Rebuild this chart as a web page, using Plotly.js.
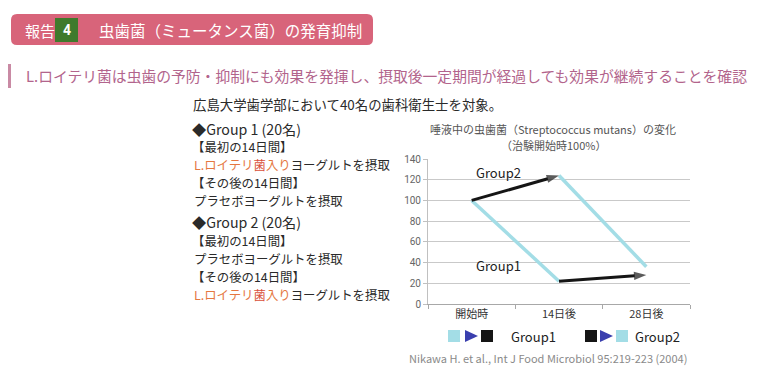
<!DOCTYPE html>
<html>
<head>
<meta charset="utf-8">
<script src="https://cdn.plot.ly/plotly-3.0.1.min.js"></script>
<style>
html,body{margin:0;padding:0;background:#fff;}
#chart{width:770px;height:383px;}
</style>
</head>
<body>
<div id="chart"></div>
<script>
// ---- data ----
const categories = ['開始時', '14日後', '28日後'];
const group1 = [100, 22, 28];
const group2 = [100, 124, 36];
const yTicks = [0, 20, 40, 60, 80, 100, 120, 140];

const JP = '"Noto Sans CJK JP", "Noto Sans", sans-serif';
const CYAN = '#a3dde6';
const BLACK = '#151515';

// plot area in pixels
const L = 428, R = 690, T = 159, B = 304;
const xp = x => (x - L) / (R - L);
const yp = y => (B - y) / (B - T);

function seg(x, y, color, arrow) {
  const t = {
    x: x, y: y, type: 'scatter', mode: arrow ? 'lines+markers' : 'lines',
    line: {color: color, width: arrow ? 3 : 3.5},
    hoverinfo: 'skip', showlegend: false, cliponaxis: false
  };
  if (arrow) {
    t.marker = {symbol: 'arrow', angleref: 'previous', size: [0, 13], color: color,
                line: {width: 0}};
  }
  return t;
}

const traces = [
  // Group1: first period (cyan), second period (black arrow)
  seg(categories.slice(0, 2), group1.slice(0, 2), CYAN, false),
  seg(categories.slice(1, 3), group1.slice(1, 3), BLACK, true),
  // Group2: first period (black arrow), second period (cyan)
  seg(categories.slice(1, 3), group2.slice(1, 3), CYAN, false),
  seg(categories.slice(0, 2), group2.slice(0, 2), BLACK, true)
];

const ann = [];
const shapes = [];
function txt(x, y, text, size, color, anchor, extra) {
  ann.push(Object.assign({
    xref: 'paper', yref: 'paper', x: xp(x), y: yp(y), text: text,
    showarrow: false, xanchor: anchor || 'left', yanchor: 'middle',
    font: {family: JP, size: size, color: color}
  }, extra || {}));
}

// header bar
shapes.push({type: 'path', xref: 'paper', yref: 'paper', layer: 'below',
  path: (function () {
    const x0 = 11, x1 = 373, y0 = 14, y1 = 45, r = 6;
    const X = v => xp(v), Y = v => yp(v);
    return 'M' + X(x0 + r) + ',' + Y(y0) + ' L' + X(x1 - r) + ',' + Y(y0) +
      ' Q' + X(x1) + ',' + Y(y0) + ' ' + X(x1) + ',' + Y(y0 + r) +
      ' L' + X(x1) + ',' + Y(y1 - r) +
      ' Q' + X(x1) + ',' + Y(y1) + ' ' + X(x1 - r) + ',' + Y(y1) +
      ' L' + X(x0 + r) + ',' + Y(y1) +
      ' Q' + X(x0) + ',' + Y(y1) + ' ' + X(x0) + ',' + Y(y1 - r) +
      ' L' + X(x0) + ',' + Y(y0 + r) +
      ' Q' + X(x0) + ',' + Y(y0) + ' ' + X(x0 + r) + ',' + Y(y0) + ' Z';
  })(),
  fillcolor: '#d8647a', line: {width: 0}});
shapes.push({type: 'rect', xref: 'paper', yref: 'paper', layer: 'below',
  x0: xp(55), x1: xp(78), y0: yp(18), y1: yp(42),
  fillcolor: '#3f7a2c', line: {width: 0}});
txt(23, 30, '報告', 15, '#ffffff');
txt(66.5, 30.5, '<b>4</b>', 14, '#ffffff', 'center', {font: {family: 'Roboto, sans-serif', size: 14, color: '#fff'}});
txt(97, 30, '虫歯菌（ミュータンス菌）の発育抑制', 15.5, '#ffffff');

// subtitle
shapes.push({type: 'rect', xref: 'paper', yref: 'paper', layer: 'below',
  x0: xp(8), x1: xp(11), y0: yp(64), y1: yp(88),
  fillcolor: '#c98aa4', line: {width: 0}});
txt(24, 75.5, 'L.ロイテリ菌は虫歯の予防・抑制にも効果を発揮し、摂取後一定期間が経過しても効果が継続することを確認', 14.8, '#b2648c');

// left description block
const ORG = '#e5773f';
const lr = '<span style="color:' + ORG + '">L.ロイテリ<span style="color:#d9503a">菌</span>入り</span>ヨーグルトを摂取';
const FS = 12.4;
txt(191, 104, '広島大学歯学部において40名の歯科衛生士を対象。', 13.4, '#2a2a2a');
txt(190, 129, '◆Group 1 (20名)', 14.2, '#2a2a2a');
txt(190, 147, '【最初の14日間】', FS, '#2a2a2a');
txt(192, 165, lr, FS, '#2a2a2a');
txt(190, 183, '【その後の14日間】', FS, '#2a2a2a');
txt(192, 201, 'プラセボヨーグルトを摂取', FS, '#2a2a2a');
txt(190, 222, '◆Group 2 (20名)', 14.2, '#2a2a2a');
txt(190, 241, '【最初の14日間】', FS, '#2a2a2a');
txt(192, 259, 'プラセボヨーグルトを摂取', FS, '#2a2a2a');
txt(190, 277, '【その後の14日間】', FS, '#2a2a2a');
txt(192, 295, lr, FS, '#2a2a2a');

// chart title
txt(553, 129, '唾液中の虫歯菌（Streptococcus mutans）の変化', 11, '#555555', 'center');
txt(553, 145, '（治験開始時100%）', 11, '#555555', 'center');

// group labels inside the plot
txt(498, 172, 'Group2', 13, '#222222', 'center');
txt(498, 265, 'Group1', 13, '#222222', 'center');

// custom legend
function sq(x0, color) {
  shapes.push({type: 'rect', xref: 'paper', yref: 'paper',
    x0: xp(x0), x1: xp(x0 + 12), y0: yp(330), y1: yp(342),
    fillcolor: color, line: {width: 0}});
}
function tri(x0) {
  shapes.push({type: 'path', xref: 'paper', yref: 'paper',
    path: 'M' + xp(x0) + ',' + yp(330) + ' L' + xp(x0 + 13) + ',' + yp(336) +
          ' L' + xp(x0) + ',' + yp(342) + ' Z',
    fillcolor: '#3a3fae', line: {width: 0}});
}
sq(448, CYAN); tri(465); sq(481, BLACK);
txt(509, 336, 'Group1', 13, '#222222');
sq(585, BLACK); tri(600); sq(616, CYAN);
txt(633, 336, 'Group2', 13, '#222222');

// citation
txt(548, 358, 'Nikawa H. et al., Int J Food Microbiol 95:219-223 (2004)', 11, '#8a8a8a', 'center');

const layout = {
  width: 770, height: 383,
  margin: {l: L, r: 770 - R, t: T, b: 383 - B, pad: 0},
  paper_bgcolor: '#ffffff', plot_bgcolor: '#ffffff',
  showlegend: false,
  font: {family: JP},
  xaxis: {
    type: 'category', categoryorder: 'array', categoryarray: categories,
    range: [-0.5, 2.5], fixedrange: true,
    showgrid: false, showline: true, linecolor: '#a8a8a8', linewidth: 1,
    ticks: 'outside', tickson: 'boundaries', ticklen: 4, tickcolor: '#a8a8a8',
    tickfont: {family: JP, size: 11, color: '#333333'}, zeroline: false
  },
  yaxis: {
    range: [0, 140], tickvals: yTicks, fixedrange: true,
    showgrid: true, gridcolor: '#c9c9c9', gridwidth: 1,
    showline: true, linecolor: '#c0c0c0', linewidth: 1,
    ticks: 'outside', ticklen: 4, tickcolor: '#c0c0c0',
    tickfont: {family: 'Roboto, sans-serif', size: 10, color: '#666666'},
    zeroline: false
  },
  annotations: ann,
  shapes: shapes
};

Plotly.newPlot('chart', traces, layout, {displayModeBar: false, staticPlot: true});
</script>
</body>
</html>
